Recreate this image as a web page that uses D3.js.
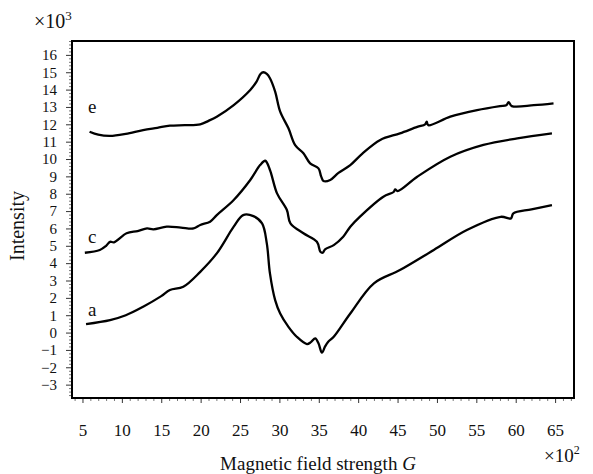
<!DOCTYPE html>
<html>
<head>
<meta charset="utf-8">
<script src="https://cdn.jsdelivr.net/npm/d3@7"></script>
<style>
  html, body { margin: 0; padding: 0; background: #fff; }
  svg text { font-family: "Liberation Serif", "DejaVu Serif", serif; fill: #111; }
</style>
</head>
<body>
<svg id="chart" width="593" height="474"></svg>
<script>
// ---- data (field in units of 10^2 G, intensity in units of 10^3) ----
const fieldE = [5.9,7.0,8.5,10.5,12.7,14.5,16.1,18.0,19.95,21.0,22.05,24.2,26.3,27.1,27.6,27.97,28.4,28.8,29.46,30.1,31.15,32.0,33.05,33.9,34.96,35.3,35.6,36.45,37.5,39.0,40.5,42.8,45.3,47.5,48.5,48.7,48.9,51.7,55.1,58.0,58.8,59.1,59.5,62.3,64.8];
const intensityE = [11.57,11.4,11.33,11.45,11.67,11.8,11.92,11.95,12.0,12.2,12.44,13.11,13.98,14.46,14.9,15.0,14.9,14.65,13.88,12.73,11.77,10.8,10.33,9.75,9.46,9.0,8.73,8.79,9.2,9.65,10.3,11.1,11.48,11.85,12.0,12.15,11.95,12.44,12.82,13.05,13.1,13.28,13.05,13.1,13.21];

const fieldC = [5.3,7.2,8.0,8.5,9.0,10.6,12.0,13.2,14.0,15.7,17.5,19.1,19.95,21.2,22.05,24.2,26.3,27.55,28.2,28.8,29.7,30.95,31.4,33.05,34.76,35.2,35.5,35.8,36.9,38.1,39.0,40.2,43.2,44.5,44.7,45.0,47.5,51.7,55.9,60.2,64.6];
const intensityC = [4.6,4.76,5.0,5.23,5.2,5.72,5.85,6.0,5.95,6.1,6.05,6.0,6.2,6.39,6.77,7.64,8.79,9.65,9.9,9.37,8.02,7.06,6.29,5.72,5.23,4.66,4.6,4.8,5.04,5.52,6.1,6.67,7.83,8.1,8.25,8.15,8.98,10.13,10.81,11.19,11.48];

const fieldA = [5.45,8.5,10.5,12.7,15.0,16.1,17.8,19.95,22.05,24.2,25.4,26.7,27.8,28.4,28.8,29.46,30.1,31.15,32.2,33.5,34.0,34.55,34.96,35.4,35.8,36.2,36.9,39.0,42.0,45.3,49.6,53.8,58.1,59.4,59.7,62.0,64.6];
const intensityA = [0.49,0.72,1.0,1.49,2.1,2.45,2.64,3.5,4.56,6.1,6.77,6.71,6.29,5.14,3.41,1.87,1.1,0.33,-0.24,-0.66,-0.55,-0.33,-0.62,-1.16,-0.8,-0.53,-0.24,1.1,2.84,3.6,4.76,5.91,6.67,6.58,6.87,7.1,7.35];

const seriesNames = ["e", "c", "a"];
const labelField = [5.7, 5.7, 5.7];
const labelIntensity = [12.65, 5.16, 0.95];

const xTickValues = [5,10,15,20,25,30,35,40,45,50,55,60,65];
const yTickValues = [-3,-2,-1,0,1,2,3,4,5,6,7,8,9,10,11,12,13,14,15,16];

// ---- layout ----
const W = 593, H = 474;
const margin = {top: 41, right: 19, bottom: 76, left: 72};
const iw = W - margin.left - margin.right;
const ih = H - margin.top - margin.bottom;

const svg = d3.select("#chart");
const g = svg.append("g").attr("transform", `translate(${margin.left},${margin.top})`);

const x = d3.scaleLinear().domain([3.67, 67.4]).range([0, iw]);
const y = d3.scaleLinear().domain([-3.77, 16.8]).range([ih, 0]);

// minor ticks
const xMinor = d3.range(4, 68, 1).filter(v => v % 5 !== 0);
const yMinor = d3.range(-3.6, 16.81, 0.2).map(v => Math.round(v * 10) / 10).filter(v => Math.abs(v - Math.round(v)) > 1e-6);

g.append("g").attr("transform", `translate(0,${ih})`)
  .call(d3.axisBottom(x).tickValues(xMinor).tickSize(3).tickFormat(""))
  .call(a => a.select(".domain").remove())
  .call(a => a.selectAll("line").attr("stroke", "#555").attr("stroke-width", 0.8));

g.append("g").attr("transform", `translate(0,${ih})`)
  .call(d3.axisBottom(x).tickValues(xTickValues).tickSize(5).tickPadding(21).tickFormat(d3.format("d")))
  .call(a => a.select(".domain").remove())
  .call(a => a.selectAll("line").attr("stroke", "#333").attr("stroke-width", 1))
  .call(a => a.selectAll("text").attr("font-size", 17).attr("fill", "#111"));

g.append("g")
  .call(d3.axisLeft(y).tickValues(yMinor).tickSize(3).tickFormat(""))
  .call(a => a.select(".domain").remove())
  .call(a => a.selectAll("line").attr("stroke", "#555").attr("stroke-width", 0.8));

g.append("g")
  .call(d3.axisLeft(y).tickValues(yTickValues).tickSize(6).tickPadding(9)
    .tickFormat(d => d < 0 ? "\u2212" + Math.abs(d) : String(d)))
  .call(a => a.select(".domain").remove())
  .call(a => a.selectAll("line").attr("stroke", "#333").attr("stroke-width", 1))
  .call(a => a.selectAll("text").attr("font-size", 15).attr("fill", "#111"));

// frame
g.append("rect").attr("x", 0).attr("y", 0).attr("width", iw).attr("height", ih)
  .attr("fill", "none").attr("stroke", "#000").attr("stroke-width", 2);

// curves
const line = d3.line().x(d => x(d[0])).y(d => y(d[1])).curve(d3.curveCatmullRom.alpha(0.5));
const series = [
  d3.zip(fieldE, intensityE),
  d3.zip(fieldC, intensityC),
  d3.zip(fieldA, intensityA)
];
g.selectAll("path.curve").data(series).join("path")
  .attr("class", "curve")
  .attr("d", line)
  .attr("fill", "none")
  .attr("stroke", "#000")
  .attr("stroke-width", 2.3)
  .attr("stroke-linejoin", "round");

// curve labels
g.selectAll("text.lbl").data(seriesNames).join("text")
  .attr("class", "lbl")
  .attr("x", (d, i) => x(labelField[i]))
  .attr("y", (d, i) => y(labelIntensity[i]))
  .attr("font-size", 19)
  .text(d => d);

// axis titles
svg.append("text").attr("x", 318).attr("y", 470).attr("text-anchor", "middle")
  .attr("font-size", 19).text("Magnetic field strength ")
  .append("tspan").attr("font-style", "italic").text("G");

svg.append("text").attr("transform", "translate(24,226) rotate(-90)")
  .attr("text-anchor", "middle").attr("font-size", 20).text("Intensity");

// multipliers
const m1 = svg.append("text").attr("x", 34).attr("y", 28).attr("font-size", 20);
m1.append("tspan").text("\u00d710");
m1.append("tspan").attr("dy", -8).attr("font-size", 13).text("3");

const m2 = svg.append("text").attr("x", 544).attr("y", 462).attr("font-size", 19);
m2.append("tspan").text("\u00d710");
m2.append("tspan").attr("dy", -8).attr("font-size", 12).text("2");
</script>
</body>
</html>
